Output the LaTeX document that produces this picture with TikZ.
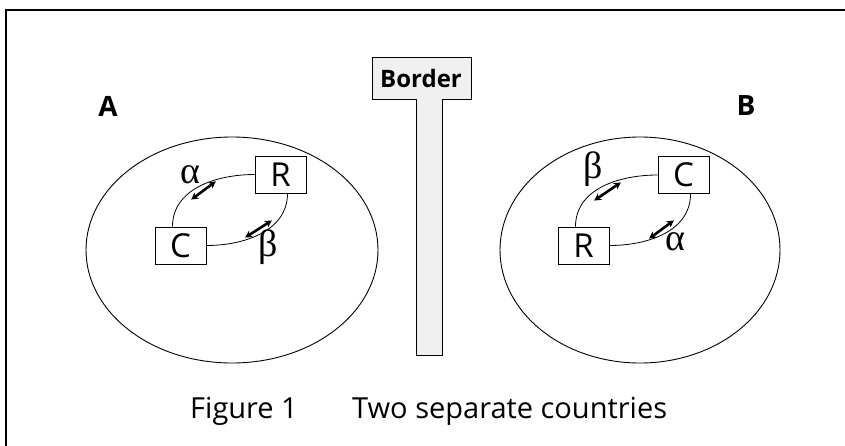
\documentclass[tikz,border=0pt]{standalone}
\usepackage{fontspec}
\setmainfont{Open Sans}
\newfontfamily\grk{Liberation Serif}
\usetikzlibrary{arrows.meta}
\begin{document}
\begin{tikzpicture}[x=1pt,y=-1pt,
  lbl/.style={font=\fontsize{29}{34}\selectfont},
  glbl/.style={font=\grk\fontsize{38}{42}\selectfont},
  boxn/.style={draw,line width=0.9pt,minimum width=51pt,minimum height=37pt,inner sep=0pt,font=\fontsize{33}{38}\selectfont},
  country/.style={draw,line width=0.9pt},
  loop/.style={line width=0.8pt},
  dbl/.style={line width=2.6pt,{Stealth[length=7pt,width=7.5pt]}-{Stealth[length=7pt,width=7.5pt]},shorten <=-1pt,shorten >=-1pt}]
\useasboundingbox (0,0) rectangle (845,445);
% frame
\draw[line width=2pt] (6,446) -- (6,10) -- (846,10);
% countries
\draw[country] (232,250) ellipse (146 and 113);
\draw[country] (640,250) ellipse (140 and 113);
\node[font=\bfseries\fontsize{28}{32}\selectfont] (labA) at (108,106) {A};
\node[font=\bfseries\fontsize{28}{32}\selectfont] (labB) at (746,106) {B};
% border post
\draw[line width=0.9pt,fill=black!6] (416,99) -- (416,355) -- (442,355) -- (442,99) -- (471,99) -- (471,57) -- (372,57) -- (372,99) -- cycle;
\node[font=\bfseries\fontsize{24}{28}\selectfont] (border) at (421,78) {Border};
% country A
\node[boxn] (RA) at (280.5,174.5) {R};
\node[boxn] (CA) at (180.5,245.5) {C};
\draw[loop] (CA.north) ++(-8,0) coordinate (ca1) to[out=90,in=180] (RA.west);
\draw[loop] (RA.south) ++(7,0) coordinate (ra1) to[out=-90,in=0] (CA.east);
\coordinate (a1s) at (192,199); \coordinate (a1e) at (215,182);
\coordinate (a2s) at (246,237); \coordinate (a2e) at (271,221);
\draw[dbl] (a1s) -- (a1e);
\draw[dbl] (a2s) -- (a2e);
\node[glbl] (alA) at (190,175) {α};
\node[glbl] (beA) at (268,247) {β};
% country B
\node[boxn] (CB) at (683.5,175) {C};
\node[boxn] (RB) at (583.5,245.5) {R};
\draw[loop] (RB.north) ++(-8,0) coordinate (rb1) to[out=90,in=180] (CB.west);
\draw[loop] (CB.south) ++(7,0) coordinate (cb1) to[out=-90,in=0] (RB.east);
\coordinate (b1s) at (595,200); \coordinate (b1e) at (620,183);
\coordinate (b2s) at (650,238); \coordinate (b2e) at (673,221);
\draw[dbl] (b1s) -- (b1e);
\draw[dbl] (b2s) -- (b2e);
\node[glbl] (beB) at (593,169) {β};
\node[glbl] (alB) at (675,242) {α};
% caption
\node[lbl,anchor=base west,inner sep=0pt] (fig) at (190,418) {Figure 1};
\node[lbl,anchor=base west,inner sep=0pt] (cap) at (352,418) {Two separate countries};
\end{tikzpicture}
\end{document}
